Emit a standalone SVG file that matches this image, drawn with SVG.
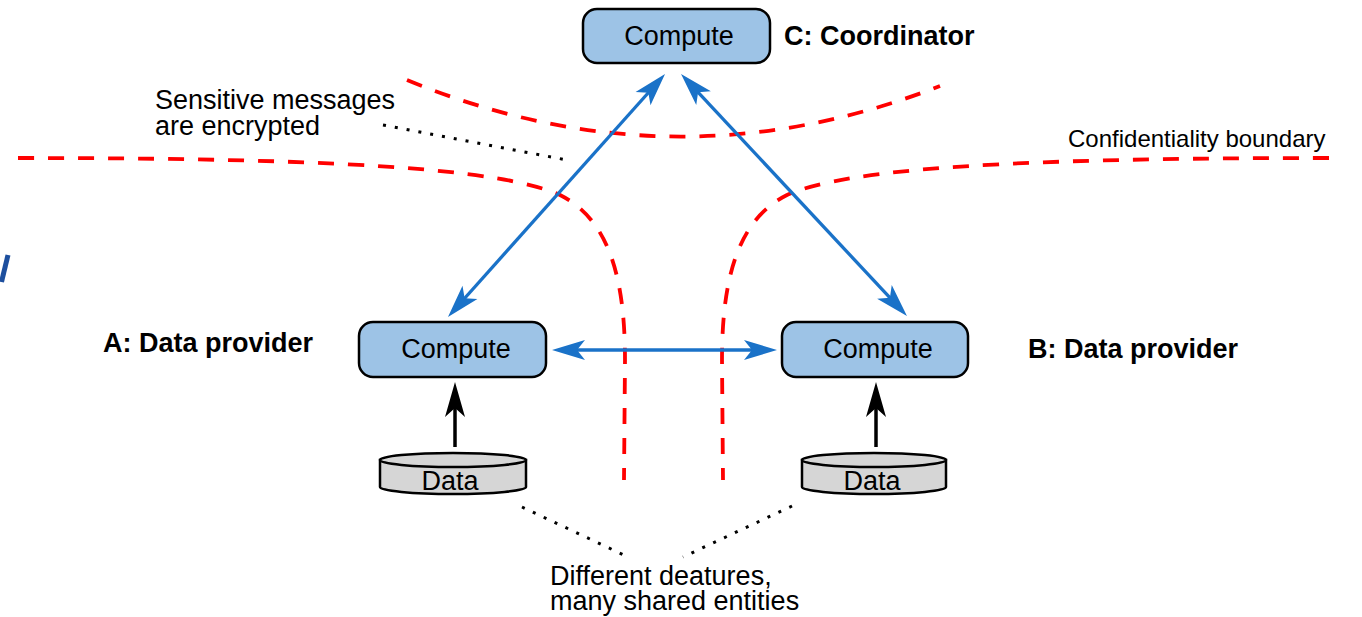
<svg xmlns="http://www.w3.org/2000/svg" width="1362" height="617" viewBox="0 0 1362 617">
  <style>
    .box { fill: #9dc3e6; stroke: #000; stroke-width: 2.5; }
    .db { fill: #d6d6d6; stroke: #000; stroke-width: 2.5; }
    .txt { font-family: "Liberation Sans", Arial, sans-serif; font-size: 27px; fill: #000; }
    .lbl { font-family: "Liberation Sans", Arial, sans-serif; font-size: 27px; font-weight: bold; fill: #000; }
    .small { font-family: "Liberation Sans", Arial, sans-serif; font-size: 24px; fill: #000; }
    .bound { fill: none; stroke: #ff0000; stroke-width: 3.8; stroke-dasharray: 16 14; }
    .dot { fill: none; stroke: #000; stroke-width: 3; stroke-dasharray: 3 9; }
    .msg { fill: none; stroke: #1a72c8; stroke-width: 3.3; marker-start: url(#blueHead); marker-end: url(#blueHead); }
    .feed { fill: none; stroke: #000; stroke-width: 3.5; marker-end: url(#blackHead); }
  </style>
  <defs>
    <marker id="blueHead" markerUnits="userSpaceOnUse" viewBox="-36 -12 40 24" markerWidth="40" markerHeight="24" refX="-8" refY="0" orient="auto-start-reverse">
      <path d="M0,0 L-33,-10 L-25,0 L-33,10 Z" fill="#1a72c8"/>
    </marker>
    <marker id="blackHead" markerUnits="userSpaceOnUse" viewBox="-38 -12 42 24" markerWidth="42" markerHeight="24" refX="-8" refY="0" orient="auto">
      <path d="M0,0 L-35,-10 L-26,0 L-35,10 Z" fill="#000"/>
    </marker>
  </defs>

  <rect width="1362" height="617" fill="#fff"/>

  <!-- clipped fragment at the left edge -->
  <line x1="8" y1="255" x2="1.5" y2="282" stroke="#1d4f9e" stroke-width="5"/>

  <!-- confidentiality boundaries -->
  <g id="boundaries">
    <path class="bound" d="M407,80 Q673.5,190 940,86"/>
    <path class="bound" d="M18,158 C330,158 500,168 560,195 C610,220 625,280 625,360 L624,480"/>
    <path class="bound" transform="translate(1347,0) scale(-1,1)" d="M18,158 C330,158 500,168 560,195 C610,220 625,280 625,360 L624,480"/>
  </g>

  <!-- connectors -->
  <g id="connectors">
    <path class="msg" d="M453.3,311 L659.7,80"/>
    <path class="msg" d="M686.5,79.8 L901.5,310.2"/>
    <path class="msg" d="M560,350 L769,350"/>
    <path class="feed" d="M455,447 L455,390"/>
    <path class="feed" d="M876,447 L876,390"/>
    <path class="dot" d="M383,125 L567,160"/>
    <path class="dot" d="M522,507 L628,557"/>
    <path class="dot" d="M792,506 L683,557"/>
  </g>

  <!-- coordinator -->
  <g id="nodeC">
    <rect class="box" x="583" y="9" width="187" height="54" rx="14"/>
    <text class="txt" x="679" y="45" text-anchor="middle">Compute</text>
    <text class="lbl" x="784" y="45">C: Coordinator</text>
  </g>

  <!-- data provider A -->
  <g id="nodeA">
    <rect class="box" x="359" y="322" width="187" height="55" rx="14"/>
    <text class="txt" x="456" y="358" text-anchor="middle">Compute</text>
    <text class="lbl" x="103" y="352">A: Data provider</text>
  </g>
  <g id="dataA">
    <path class="db" d="M380,460 L380,487 A73,7 0 0 0 526,487 L526,460 Z"/>
    <ellipse class="db" cx="453" cy="460" rx="73" ry="7"/>
    <text class="txt" x="450" y="490" text-anchor="middle">Data</text>
  </g>

  <!-- data provider B -->
  <g id="nodeB">
    <rect class="box" x="782" y="322" width="186" height="55" rx="14"/>
    <text class="txt" x="878" y="358" text-anchor="middle">Compute</text>
    <text class="lbl" x="1028" y="358">B: Data provider</text>
  </g>
  <g id="dataB">
    <path class="db" d="M802,460 L802,487 A72,7 0 0 0 946,487 L946,460 Z"/>
    <ellipse class="db" cx="874" cy="460" rx="72" ry="7"/>
    <text class="txt" x="872" y="490" text-anchor="middle">Data</text>
  </g>

  <!-- annotations -->
  <g id="notes">
    <text class="txt"><tspan x="155" y="109">Sensitive messages</tspan><tspan x="155" y="135">are encrypted</tspan></text>
    <text class="small" x="1068" y="147">Confidentiality boundary</text>
    <text class="txt"><tspan x="550" y="585">Different deatures,</tspan><tspan x="550" y="610">many shared entities</tspan></text>
  </g>
</svg>
